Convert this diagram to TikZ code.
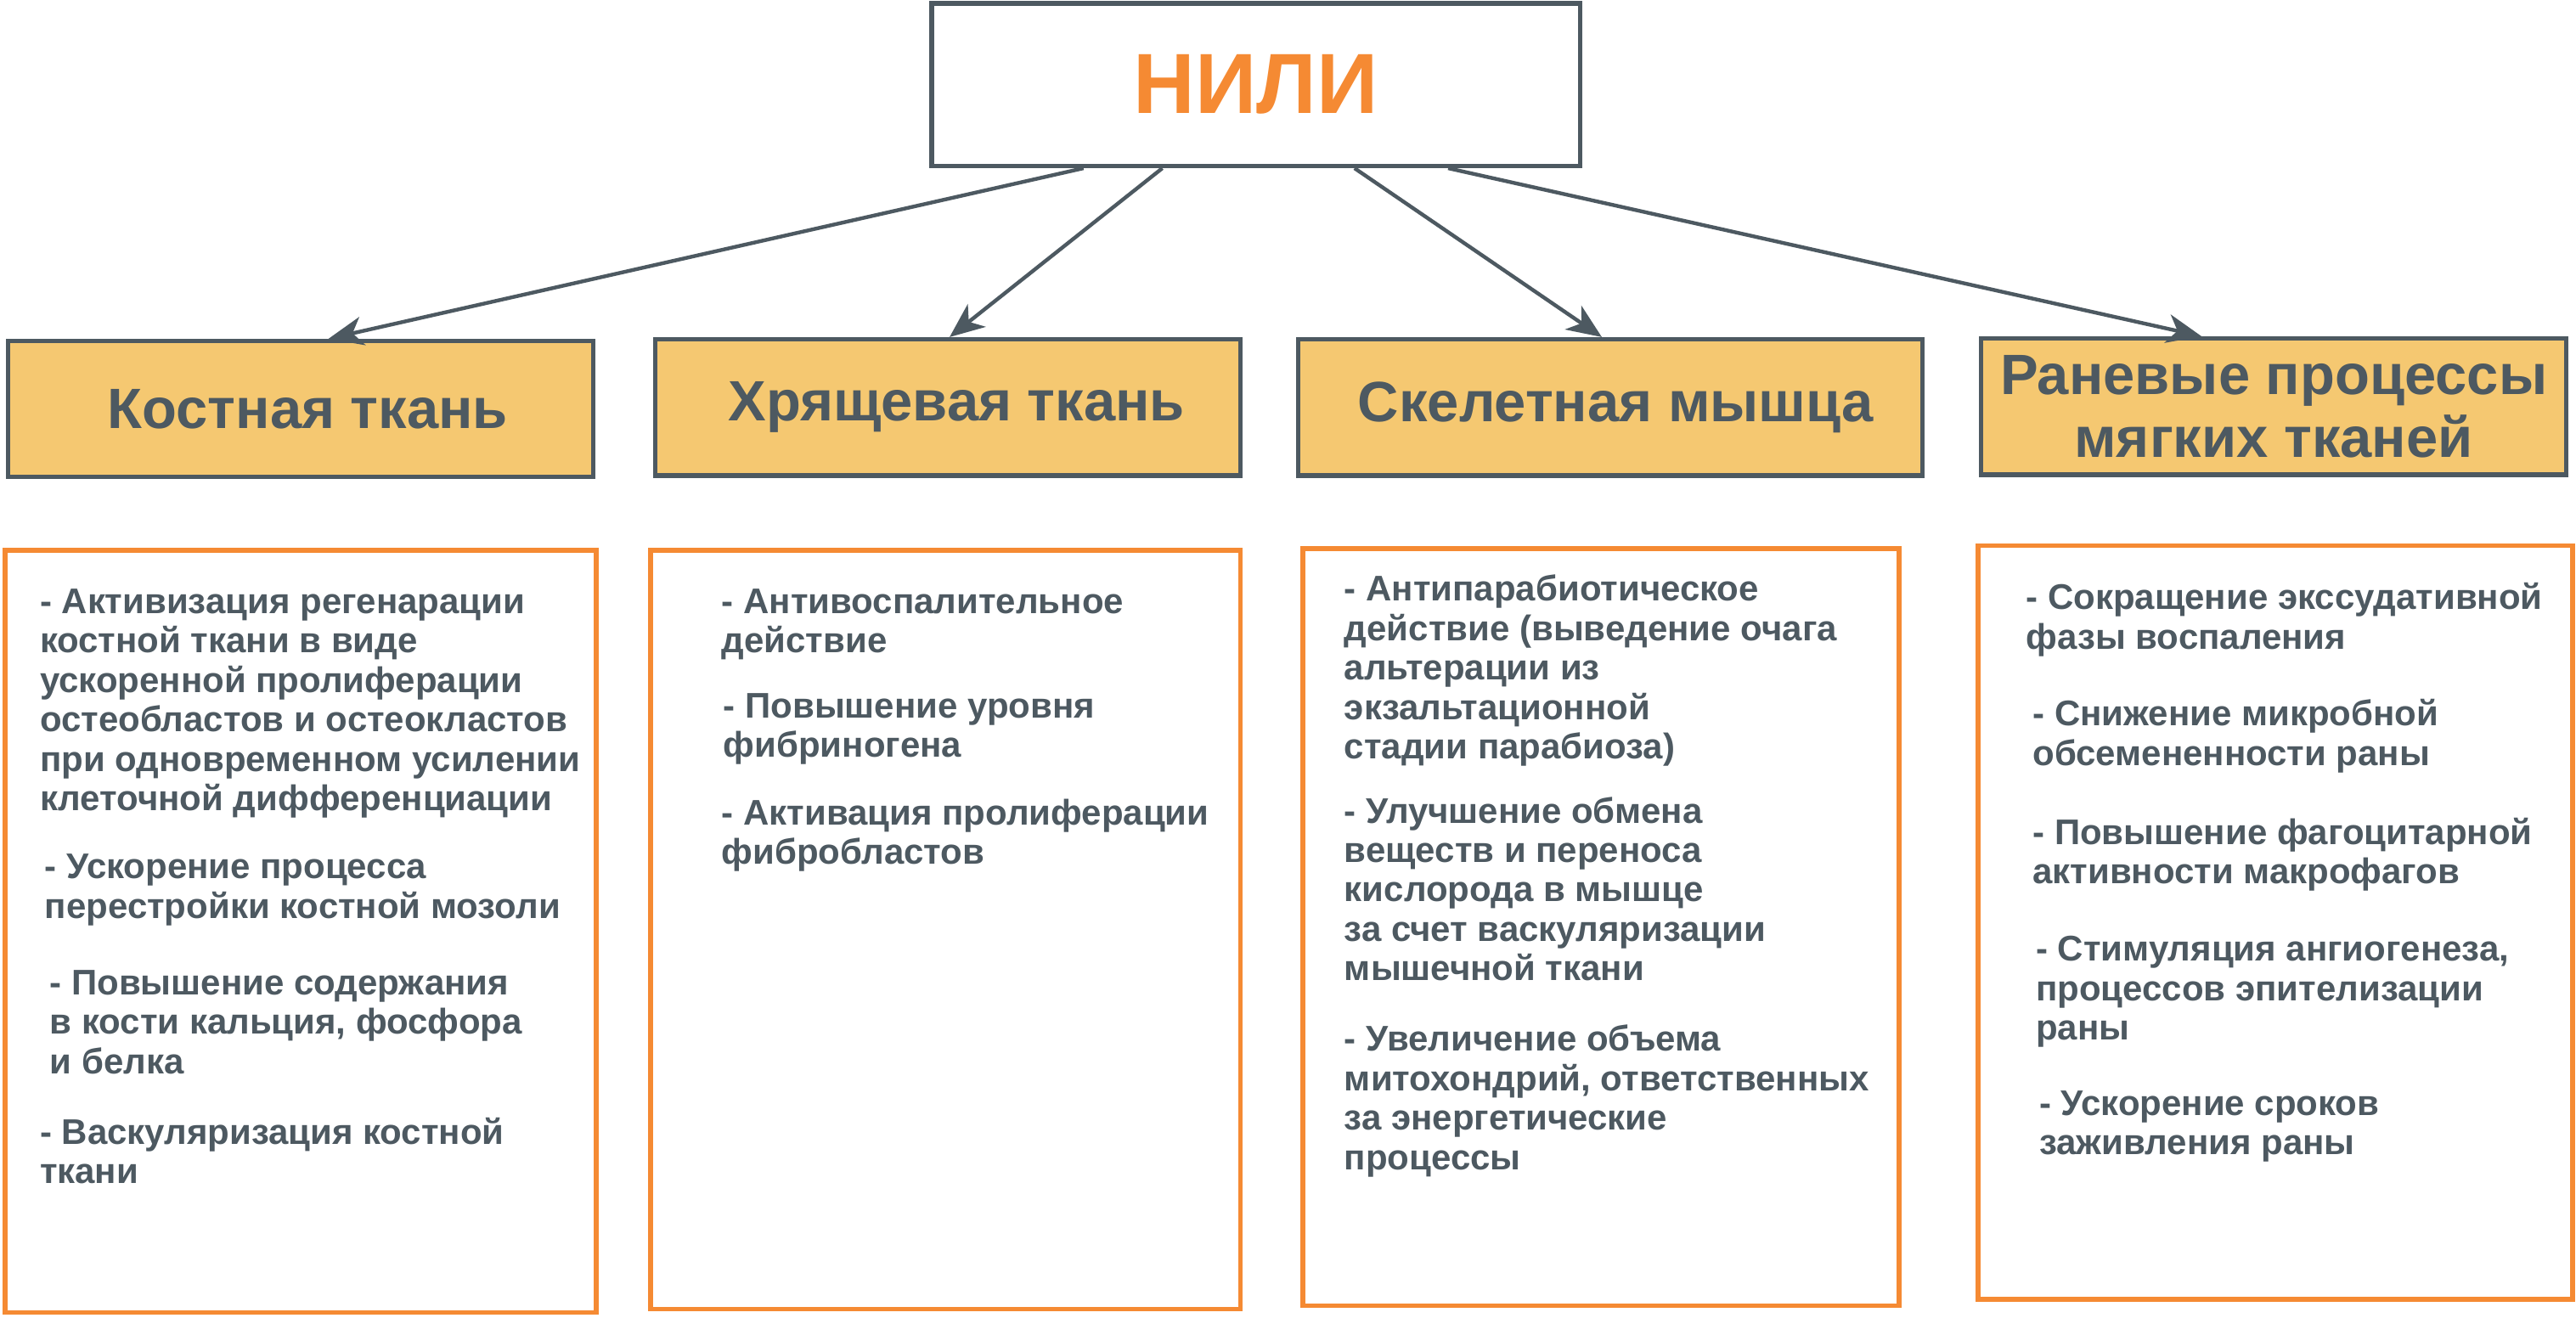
\documentclass[tikz,border=0pt]{standalone}
\usepackage{fontspec}
\setmainfont{Liberation Sans}
\usepackage{tikz}
\usetikzlibrary{arrows.meta}
\definecolor{slate}{RGB}{77,89,97}
\definecolor{niliorange}{RGB}{245,138,51}
\definecolor{tissue}{RGB}{245,200,113}

\begin{document}
\begin{tikzpicture}[x=0.02cm,y=-0.02cm,inner sep=0pt,
  nilibox/.style={rectangle,draw=slate,line width=1.6pt,minimum width=7.9cm,minimum height=1.98cm},
  tbox/.style={rectangle,draw=slate,fill=tissue,line width=1.5pt,minimum width=7.12cm,minimum height=1.66cm,
    text=slate,align=center,font=\fontsize{19.7}{22}\selectfont\bfseries},
  lbox/.style={rectangle,draw=niliorange,line width=1.6pt},
  item/.style={anchor=base west,align=left,text=slate,font=\fontsize{12.35}{13.66}\selectfont\bfseries},
  arr/.style={draw=slate,line width=1.3pt,-{Stealth[length=12pt,width=10pt,inset=3.5pt]}}]
\useasboundingbox (0,0) rectangle (1568,802);
% top
\node at (764.5,51.5) [nilibox,text=niliorange,font=\fontsize{29.6}{31}\selectfont\bfseries] (nili) {НИЛИ};
% tissues
\node at (183,249) [tbox] (bone) {\hspace*{5pt}Костная ткань};
\node at (577,248) [tbox] (cart) {\hspace*{6pt}Хрящевая ткань};
\node at (980,248) [tbox,minimum width=7.6cm] (muscle) {\hspace*{4pt}Скелетная мышца};
\node at (1384,247.5) [tbox] (wound) {Раневые процессы\\мягких тканей};
\draw[arr] ([xshift=-2.1cm]nili.south) -- ([xshift=0.34cm]bone.north);
\draw[arr] ([xshift=-1.14cm]nili.south) -- ([xshift=0.02cm]cart.north);
\draw[arr] ([xshift=1.2cm]nili.south) -- ([xshift=-0.1cm]muscle.north);
\draw[arr] ([xshift=2.34cm]nili.south) -- ([xshift=-0.88cm]wound.north);
% lists
\node at (183,567) [lbox,minimum width=7.2cm,minimum height=9.28cm] (listB) {};
\node at (575.5,566) [lbox,minimum width=7.18cm,minimum height=9.24cm] (listC) {};
\node at (974.5,564.5) [lbox,minimum width=7.26cm,minimum height=9.22cm] (listM) {};
\node at (1385,561.5) [lbox,minimum width=7.24cm,minimum height=9.18cm] (listW) {};
% bone (y = last baseline)
\node at (24,493.5) [item] (b1) {- Активизация регенарации\\костной ткани в виде\\ускоренной пролиферации\\остеобластов и остеокластов\\при одновременном усилении\\клеточной дифференциации};
\node at (27,559) [item] (b2) {- Ускорение процесса\\перестройки костной мозоли};
\node at (30,653.5) [item] (b3) {- Повышение содержания\\в кости кальция, фосфора\\и белка};
\node at (24,720.5) [item] (b4) {- Васкуляризация костной\\ткани};
% cartilage
\node at (439,397.5) [item] (c1) {- Антивоспалительное\\действие};
\node at (440,461) [item] (c2) {- Повышение уровня\\фибриногена};
\node at (439,526) [item] (c3) {- Активация пролиферации\\фибробластов};
% muscle
\node at (818,462) [item] (m1) {- Антипарабиотическое\\действие (выведение очага\\альтерации из\\экзальтационной\\стадии парабиоза)};
\node at (818,597) [item] (m2) {- Улучшение обмена\\веществ и переноса\\кислорода в мышце\\за счет васкуляризации\\мышечной ткани};
\node at (818,712) [item] (m3) {- Увеличение объема\\митохондрий, ответственных\\за энергетические\\процессы};
% wound
\node at (1233,395) [item] (w1) {- Сокращение экссудативной\\фазы воспаления};
\node at (1237,466) [item] (w2) {- Снижение микробной\\обсемененности раны};
\node at (1237,538) [item] (w3) {- Повышение фагоцитарной\\активности макрофагов};
\node at (1239,633) [item] (w4) {- Стимуляция ангиогенеза,\\процессов эпителизации\\раны};
\node at (1241,703) [item] (w5) {- Ускорение сроков\\заживления раны};
\end{tikzpicture}
\end{document}
